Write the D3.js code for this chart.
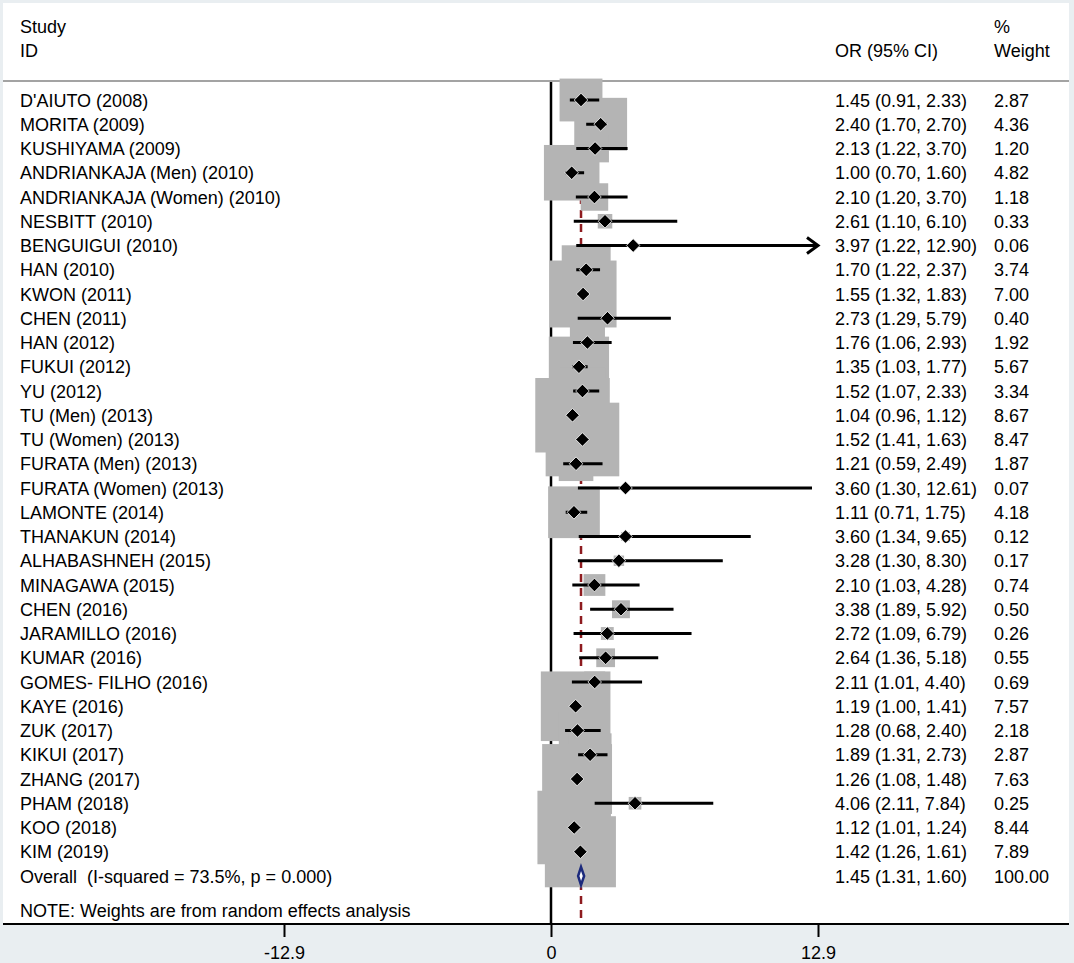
<!DOCTYPE html>
<html>
<head>
<meta charset="utf-8">
<script src="https://cdn.jsdelivr.net/npm/d3@7"></script>
<style>
  html, body { margin: 0; padding: 0; background: #fff; }
  svg { display: block; font-family: "Liberation Sans", Arial, sans-serif; }
  text { white-space: pre; }
</style>
</head>
<body>
<div id="view"></div>
<script>
// ---- data ----
const studies = [
  "D'AIUTO (2008)", "MORITA (2009)", "KUSHIYAMA (2009)", "ANDRIANKAJA (Men) (2010)",
  "ANDRIANKAJA (Women) (2010)", "NESBITT (2010)", "BENGUIGUI (2010)", "HAN (2010)",
  "KWON (2011)", "CHEN (2011)", "HAN (2012)", "FUKUI (2012)", "YU (2012)",
  "TU (Men) (2013)", "TU (Women) (2013)", "FURATA (Men) (2013)", "FURATA (Women) (2013)",
  "LAMONTE (2014)", "THANAKUN (2014)", "ALHABASHNEH (2015)", "MINAGAWA (2015)",
  "CHEN (2016)", "JARAMILLO (2016)", "KUMAR (2016)", "GOMES- FILHO (2016)",
  "KAYE (2016)", "ZUK (2017)", "KIKUI (2017)", "ZHANG (2017)", "PHAM (2018)",
  "KOO (2018)", "KIM (2019)"
];
const orVals  = [1.45, 2.40, 2.13, 1.00, 2.10, 2.61, 3.97, 1.70, 1.55, 2.73, 1.76, 1.35, 1.52, 1.04, 1.52, 1.21, 3.60, 1.11, 3.60, 3.28, 2.10, 3.38, 2.72, 2.64, 2.11, 1.19, 1.28, 1.89, 1.26, 4.06, 1.12, 1.42];
const ciLow   = [0.91, 1.70, 1.22, 0.70, 1.20, 1.10, 1.22, 1.22, 1.32, 1.29, 1.06, 1.03, 1.07, 0.96, 1.41, 0.59, 1.30, 0.71, 1.34, 1.30, 1.03, 1.89, 1.09, 1.36, 1.01, 1.00, 0.68, 1.31, 1.08, 2.11, 1.01, 1.26];
const ciHigh  = [2.33, 2.70, 3.70, 1.60, 3.70, 6.10, 12.90, 2.37, 1.83, 5.79, 2.93, 1.77, 2.33, 1.12, 1.63, 2.49, 12.61, 1.75, 9.65, 8.30, 4.28, 5.92, 6.79, 5.18, 4.40, 1.41, 2.40, 2.73, 1.48, 7.84, 1.24, 1.61];
const weights = [2.87, 4.36, 1.20, 4.82, 1.18, 0.33, 0.06, 3.74, 7.00, 0.40, 1.92, 5.67, 3.34, 8.67, 8.47, 1.87, 0.07, 4.18, 0.12, 0.17, 0.74, 0.50, 0.26, 0.55, 0.69, 7.57, 2.18, 2.87, 7.63, 0.25, 8.44, 7.89];

const overallLabel = "Overall  (I-squared = 73.5%, p = 0.000)";
const overall = { or: 1.45, lo: 1.31, hi: 1.60, w: 100.00 };
const noteText = "NOTE: Weights are from random effects analysis";
const xTicks = [-12.9, 0, 12.9];

// ---- layout ----
const W = 1074, H = 963;
const FONT = 18;
const plotBottom = 924;
const colOR = 835, colW = 994, colStudy = 20;
const baseOff = 6.5; // row centre -> text baseline

const svg = d3.select("#view").append("svg")
  .attr("width", W).attr("height", H);

svg.append("rect").attr("width", W).attr("height", H).attr("fill", "#e9eef1");
svg.append("rect").attr("x", 3).attr("y", 3).attr("width", 1066).attr("height", plotBottom - 3).attr("fill", "#fff");

const x = d3.scaleLinear().domain([-12.9, 12.9]).range([284, 818]);
const y = d3.scaleLinear().domain([0, studies.length]).range([100, 100 + studies.length * 24.25]);
const boxK = 25.3; // box side = k * sqrt(weight)

const rows = studies.map((s, i) => ({
  name: s, i, or: orVals[i], lo: ciLow[i], hi: ciHigh[i], w: weights[i]
}));

// header
const hdr = svg.append("g").style("font-size", FONT + "px").attr("fill", "#000");
hdr.append("text").attr("x", colStudy).attr("y", 33).text("Study");
hdr.append("text").attr("x", colStudy).attr("y", 57).text("ID");
hdr.append("text").attr("x", colOR).attr("y", 57).text("OR (95% CI)");
hdr.append("text").attr("x", colW).attr("y", 33).text("%");
hdr.append("text").attr("x", colW).attr("y", 57).text("Weight");

svg.append("line")
  .attr("x1", 3).attr("x2", 1069).attr("y1", 81).attr("y2", 81)
  .attr("stroke", "#a3a3a3").attr("stroke-width", 2);

// null line + overall dashed line
svg.append("line")
  .attr("x1", x(0)).attr("x2", x(0)).attr("y1", 82).attr("y2", plotBottom)
  .attr("stroke", "#000").attr("stroke-width", 2.5);

svg.append("line")
  .attr("x1", x(overall.or)).attr("x2", x(overall.or)).attr("y1", 84).attr("y2", plotBottom)
  .attr("stroke", "#8e1b1f").attr("stroke-width", 2.5)
  .attr("stroke-dasharray", "8,6");

// weight boxes
svg.append("g").selectAll("rect")
  .data(rows)
  .join("rect")
  .attr("x", d => x(d.or) - boxK * Math.sqrt(d.w) / 2)
  .attr("y", d => y(d.i) - boxK * Math.sqrt(d.w) / 2)
  .attr("width", d => boxK * Math.sqrt(d.w))
  .attr("height", d => boxK * Math.sqrt(d.w))
  .attr("fill", "#b4b4b4");

// CI lines
const xMax = x.domain()[1];
svg.append("g").selectAll("line")
  .data(rows)
  .join("line")
  .attr("x1", d => x(d.lo))
  .attr("x2", d => x(Math.min(d.hi, xMax)))
  .attr("y1", d => y(d.i)).attr("y2", d => y(d.i))
  .attr("stroke", "#000").attr("stroke-width", 3);

// arrows where CI runs off the scale
svg.append("g").selectAll("path")
  .data(rows.filter(d => d.hi >= xMax))
  .join("path")
  .attr("d", d => {
    const tx = x(xMax), ty = y(d.i);
    return `M${tx - 11},${ty - 8}L${tx},${ty}L${tx - 11},${ty + 8}`;
  })
  .attr("fill", "none").attr("stroke", "#000").attr("stroke-width", 3);

// point estimates
svg.append("g").selectAll("path")
  .data(rows)
  .join("path")
  .attr("d", d => {
    const cx = x(d.or), cy = y(d.i), r = 6.8;
    return `M${cx},${cy - r}L${cx + r},${cy}L${cx},${cy + r}L${cx - r},${cy}Z`;
  })
  .attr("fill", "#000").attr("stroke", "#fff").attr("stroke-width", 0.8);

// overall diamond
const yo = y(studies.length);
svg.append("path")
  .attr("d", `M${x(overall.lo)},${yo}L${x(overall.or)},${yo - 9}L${x(overall.hi)},${yo}L${x(overall.or)},${yo + 9}Z`)
  .attr("fill", "#fff").attr("stroke", "#1c2a7c").attr("stroke-width", 2.5);

// text columns
const fmt = d3.format(".2f");
const txt = svg.append("g").style("font-size", FONT + "px").attr("fill", "#000");
txt.selectAll("text.study")
  .data(rows).join("text").attr("class", "study")
  .attr("x", colStudy).attr("y", d => y(d.i) + baseOff)
  .text(d => d.name);
txt.selectAll("text.ci")
  .data(rows).join("text").attr("class", "ci")
  .attr("x", colOR).attr("y", d => y(d.i) + baseOff)
  .text(d => `${fmt(d.or)} (${fmt(d.lo)}, ${fmt(d.hi)})`);
txt.selectAll("text.wt")
  .data(rows).join("text").attr("class", "wt")
  .attr("x", colW).attr("y", d => y(d.i) + baseOff)
  .text(d => fmt(d.w));

txt.append("text").attr("x", colStudy).attr("y", yo + baseOff).text(overallLabel);
txt.append("text").attr("x", colOR).attr("y", yo + baseOff)
  .text(`${fmt(overall.or)} (${fmt(overall.lo)}, ${fmt(overall.hi)})`);
txt.append("text").attr("x", colW).attr("y", yo + baseOff).text(fmt(overall.w));
txt.append("text").attr("x", colStudy).attr("y", 917).text(noteText);

// x axis
svg.append("line")
  .attr("x1", 3).attr("x2", 1069).attr("y1", plotBottom).attr("y2", plotBottom)
  .attr("stroke", "#000").attr("stroke-width", 2);

const ax = svg.append("g")
  .attr("transform", `translate(0,${plotBottom})`)
  .call(d3.axisBottom(x).tickValues(xTicks)
    .tickFormat(d => d === 0 ? "0" : (d < 0 ? "-" : "") + Math.abs(d).toFixed(1))
    .tickSize(13).tickPadding(9));
ax.select(".domain").remove();
ax.selectAll(".tick line").attr("stroke", "#000").attr("stroke-width", 2);
ax.selectAll(".tick text")
  .attr("fill", "#000")
  .style("font-size", FONT + "px")
  .style("font-family", '"Liberation Sans", Arial, sans-serif');
</script>
</body>
</html>
